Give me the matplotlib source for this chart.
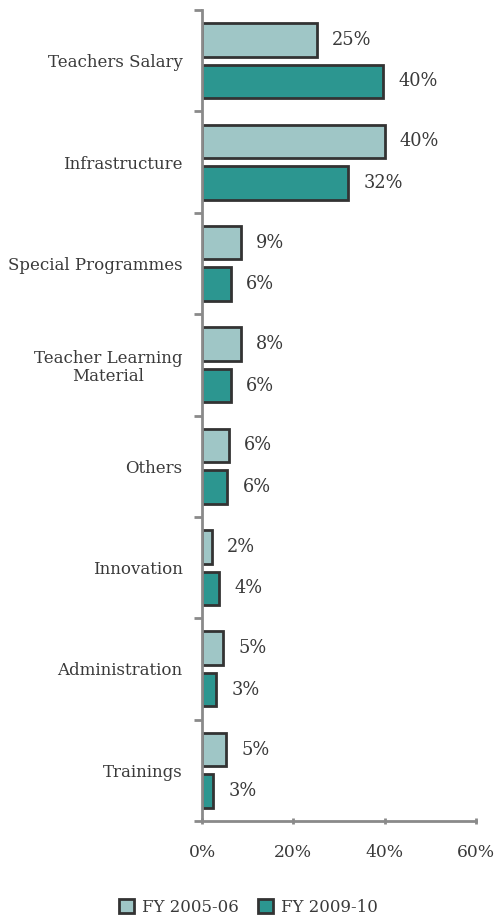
import matplotlib
import matplotlib.pyplot as plt
import numpy as np
from matplotlib.patches import Patch

matplotlib.use("Agg")

CATEGORIES = [
    "Teachers Salary",
    "Infrastructure",
    "Special Programmes",
    "Teacher Learning\nMaterial",
    "Others",
    "Innovation",
    "Administration",
    "Trainings",
]
FY_2005 = [25.1, 40.0, 8.5, 8.5, 5.9, 2.1, 4.7, 5.2]
FY_2009 = [39.7, 32.0, 6.3, 6.3, 5.5, 3.8, 3.1, 2.5]
LABELS_2005 = ["25%", "40%", "9%", "8%", "6%", "2%", "5%", "5%"]
LABELS_2009 = ["40%", "32%", "6%", "6%", "6%", "4%", "3%", "3%"]
X_TICKS = [0, 20, 40, 60]

COLORS = {
    "light": "#9fc6c6",
    "dark": "#2c9690",
    "edge": "#333333",
    "axis": "#8a8a8a",
    "text": "#3a3a3a",
}

plt.rcParams["font.family"] = ["DejaVu Serif"]

fig = plt.figure(figsize=(4.97, 9.15), dpi=100)
ax = fig.add_axes([202 / 497, 94 / 915, 274 / 497, 811 / 915])

y = np.arange(len(CATEGORIES))
height = 0.33
offset = 0.205

bars_a = ax.barh(y - offset, FY_2005, height=height, color=COLORS["light"],
                 edgecolor=COLORS["edge"], linewidth=2)
bars_b = ax.barh(y + offset, FY_2009, height=height, color=COLORS["dark"],
                 edgecolor=COLORS["edge"], linewidth=2)

for bars, labels in ((bars_a, LABELS_2005), (bars_b, LABELS_2009)):
    for bar, label in zip(bars, labels):
        ax.annotate(label, (bar.get_width(), bar.get_y() + bar.get_height() / 2),
                    xytext=(11, 0), textcoords="offset points", va="center",
                    ha="left", fontsize=12.8, color=COLORS["text"])

ax.set_xlim(0, 60)
ax.set_ylim(len(CATEGORIES) - 0.5, -0.5)
ax.set_xticks(X_TICKS)
ax.set_xticklabels([f"{t}%" for t in X_TICKS])
ax.set_yticks(y)
ax.set_yticklabels(CATEGORIES, linespacing=1.1)
ax.set_yticks(np.arange(len(CATEGORIES) + 1) - 0.5, minor=True)

ax.tick_params(axis="y", which="major", length=0, pad=14, labelsize=12,
               labelcolor=COLORS["text"])
ax.tick_params(axis="y", which="minor", length=6, width=2, color=COLORS["axis"])
ax.tick_params(axis="x", length=5, width=2, color=COLORS["axis"], direction="inout",
               pad=14, labelsize=12.3, labelcolor=COLORS["text"])
for lbl in ax.get_yticklabels():
    lbl.set_multialignment("center")

for side in ("top", "right"):
    ax.spines[side].set_visible(False)
for side in ("left", "bottom"):
    ax.spines[side].set_color(COLORS["axis"])
    ax.spines[side].set_linewidth(2)

handles = [
    Patch(facecolor=COLORS["light"], edgecolor=COLORS["edge"], linewidth=2, label="FY 2005-06"),
    Patch(facecolor=COLORS["dark"], edgecolor=COLORS["edge"], linewidth=2, label="FY 2009-10"),
]
fig.legend(handles=handles, loc="center", bbox_to_anchor=(0.5, 8 / 915), ncol=2,
           frameon=False, fontsize=11.9, handlelength=0.9, handleheight=0.9,
           handletextpad=0.5, columnspacing=1.2, labelcolor=COLORS["text"])

fig.savefig("out.png", dpi=100)
